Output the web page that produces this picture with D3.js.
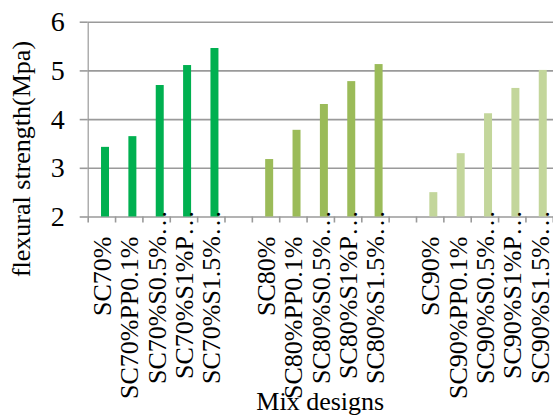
<!DOCTYPE html>
<html>
<head>
<meta charset="utf-8">
<script src="https://cdn.jsdelivr.net/npm/d3@7"></script>
<style>
  html, body { margin: 0; padding: 0; background: #fff; }
  svg { display: block; }
  svg text { font-family: "Liberation Serif", "Times New Roman", serif; fill: #000; }
</style>
</head>
<body>
<svg id="chart" width="553" height="416"></svg>
<script>
// ---- data ----
const categories = [
  "SC70%", "SC70%PP0.1%", "SC70%S0.5%…", "SC70%S1%P…", "SC70%S1.5%…", "",
  "SC80%", "SC80%PP0.1%", "SC80%S0.5%…", "SC80%S1%P…", "SC80%S1.5%…", "",
  "SC90%", "SC90%PP0.1%", "SC90%S0.5%…", "SC90%S1%P…", "SC90%S1.5%…"
];
const values70 = [3.43, 3.65, 4.70, 5.11, 5.46];
const values80 = [3.18, 3.78, 4.31, 4.78, 5.13];
const values90 = [2.50, 3.30, 4.12, 4.64, 5.01];
const yTicks = [2, 3, 4, 5, 6];
const colors = ["#00B050", "#9BBB59", "#C3D69B"];

// build bar records (value at category index)
const seriesValues = [values70, values80, values90];
const bars = [];
seriesValues.forEach((vals, s) => {
  vals.forEach((v, i) => bars.push({ idx: s * 6 + i, value: v, color: colors[s] }));
});

// ---- layout ----
const svg = d3.select("#chart");
const mLeft = 87.7, mRight = 552.8, mTop = 21.7, mBottom = 216.5;
const serif = '"Liberation Serif", "Times New Roman", serif';

const idx = d3.range(categories.length);
const x = d3.scaleBand().domain(idx).range([mLeft, mRight]).padding(0);
const xEdge = d3.scaleLinear().domain([0, categories.length]).range([mLeft, mRight]);
const y = d3.scaleLinear().domain([2, 6]).range([mBottom, mTop]);

// gridlines
svg.append("g")
  .attr("transform", `translate(${mLeft},0)`)
  .call(d3.axisLeft(y).tickValues(yTicks).tickSize(-(mRight - mLeft + 2)).tickFormat(""))
  .call(g => g.select(".domain").remove())
  .call(g => g.selectAll("line").attr("stroke", "#9a9a9a").attr("stroke-width", 1.6));

// y axis
svg.append("g")
  .attr("transform", `translate(${mLeft},0)`)
  .call(d3.axisLeft(y).tickValues(yTicks).tickFormat(d3.format("d")).tickSize(8).tickPadding(15).tickSizeOuter(0))
  .call(g => g.select(".domain").attr("stroke", "#9a9a9a").attr("stroke-width", 1.2))
  .call(g => g.selectAll(".tick line").attr("stroke", "#9a9a9a").attr("stroke-width", 1.6))
  .call(g => g.selectAll("text").style("font-size", "28px").style("font-family", serif).attr("fill", "#000"));

// bars
svg.append("g").selectAll("rect")
  .data(bars)
  .join("rect")
  .attr("x", d => x(d.idx) + x.bandwidth() * 0.487)
  .attr("width", x.bandwidth() * 0.292)
  .attr("y", d => y(d.value))
  .attr("height", d => y(2) - y(d.value))
  .attr("fill", d => d.color);

// x axis boundary ticks
svg.append("g")
  .attr("transform", `translate(0,${mBottom})`)
  .call(d3.axisBottom(xEdge).tickValues(d3.range(categories.length + 1)).tickSize(6).tickFormat("").tickSizeOuter(0))
  .call(g => g.select(".domain").remove())
  .call(g => g.selectAll("line").attr("stroke", "#9a9a9a").attr("stroke-width", 1.6));

// x axis labels
svg.append("g")
  .attr("transform", `translate(0,${mBottom})`)
  .call(d3.axisBottom(x).tickSize(0).tickFormat(i => categories[i]))
  .call(g => g.select(".domain").remove())
  .call(g => g.selectAll("text")
    .style("font-size", "26px")
    .style("font-family", serif)
    .attr("fill", "#000")
    .attr("text-anchor", "end")
    .attr("dy", null)
    .attr("transform", "rotate(-90)")
    .attr("x", i => categories[i].endsWith("…") ? 6.5 : -20)
    .attr("y", 9.5));

// axis titles
svg.append("text")
  .attr("transform", "translate(30,159) rotate(-90)")
  .attr("text-anchor", "middle")
  .style("font-size", "26px")
  .style("font-family", serif)
  .text("flexural strength(Mpa)");

svg.append("text")
  .attr("x", (mLeft + mRight) / 2)
  .attr("y", 410)
  .attr("text-anchor", "middle")
  .style("font-size", "26px")
  .style("font-family", serif)
  .text("Mix designs");
</script>
</body>
</html>
